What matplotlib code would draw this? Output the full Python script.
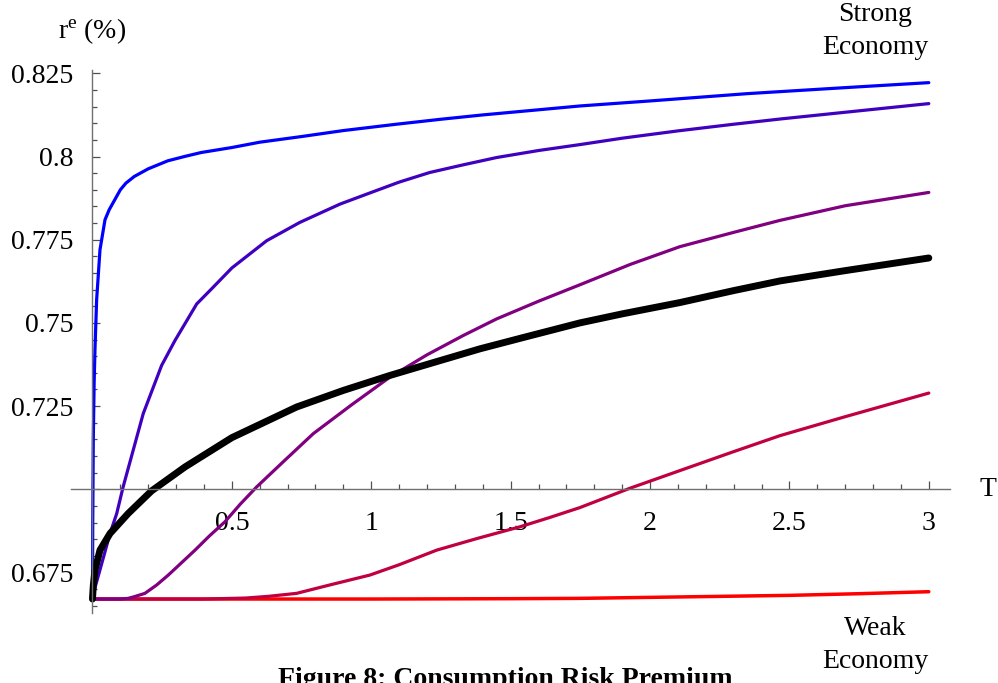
import numpy as np
import matplotlib.pyplot as plt
from matplotlib.ticker import MultipleLocator, FixedLocator, FixedFormatter

plt.rcParams['font.family'] = ['Liberation Serif', 'DejaVu Serif']
plt.rcParams['mathtext.fontset'] = 'custom'
plt.rcParams['mathtext.rm'] = 'Liberation Serif'
plt.rcParams['mathtext.it'] = 'Liberation Serif:italic'

# curves (T, r^e)
t_blue = [0, 0.001, 0.003, 0.006, 0.009, 0.015, 0.027, 0.045, 0.06, 0.08, 0.1, 0.12,
          0.15, 0.2, 0.27, 0.33, 0.39, 0.5, 0.6, 0.75, 0.9, 1.09, 1.25, 1.4, 1.75,
          2.0, 2.35, 2.7, 3.0]
r_blue = [0.667, 0.69, 0.715, 0.732, 0.742, 0.757, 0.772, 0.781, 0.784, 0.787, 0.790, 0.792,
          0.794, 0.7963, 0.7987, 0.8, 0.8012, 0.8027, 0.8043, 0.806, 0.8078, 0.8097, 0.8112, 0.8125, 0.8152,
          0.8167, 0.8189, 0.8207, 0.8222]

t_indigo = [0, 0.01, 0.04, 0.063, 0.087, 0.11, 0.146, 0.182, 0.248, 0.296, 0.374,
            0.427, 0.5, 0.625, 0.744, 0.888, 1.0, 1.1, 1.21, 1.33, 1.45, 1.6, 1.75,
            1.9, 2.1, 2.3, 2.47, 2.7, 3.0]
r_indigo = [0.667, 0.6707, 0.6797, 0.6867, 0.6927, 0.7007, 0.7117, 0.7227, 0.7372, 0.7447, 0.7557,
            0.7602, 0.7665, 0.7747, 0.7802, 0.7857, 0.7892, 0.7923, 0.7952, 0.7975, 0.7997, 0.8018, 0.8036,
            0.8055, 0.8077, 0.8097, 0.8113, 0.8133, 0.8159]

t_purple = [0, 0.1, 0.128, 0.15, 0.188, 0.23, 0.272, 0.368, 0.42, 0.475, 0.53, 0.589,
            0.69, 0.792, 0.93, 1.067, 1.2, 1.33, 1.45, 1.6, 1.75, 1.93, 2.107, 2.3,
            2.466, 2.7, 3.0]
r_purple = [0.667, 0.667, 0.6672, 0.6677, 0.6687, 0.6712, 0.6742, 0.6817, 0.686, 0.6902, 0.6955, 0.7007,
            0.7087, 0.7167, 0.7254, 0.7337, 0.7404, 0.7462, 0.7512, 0.7565, 0.7615, 0.7676, 0.7729, 0.7772,
            0.7808, 0.7852, 0.7892]

t_crimson = [0, 0.4, 0.55, 0.63, 0.732, 0.85, 0.995, 1.1, 1.235, 1.38, 1.533, 1.64,
             1.749, 1.928, 2.107, 2.3, 2.466, 2.7, 3.0]
r_crimson = [0.667, 0.667, 0.6673, 0.6678, 0.6687, 0.6712, 0.6742, 0.6773, 0.6817, 0.6852, 0.6887, 0.6915,
             0.6945, 0.7003, 0.7056, 0.7113, 0.7161, 0.7218, 0.7289]

t_red = [0, 1.0, 1.5, 1.75, 2.0, 2.25, 2.5, 2.75, 3.0]
r_red = [0.667, 0.667, 0.6671, 0.6672, 0.6675, 0.6678, 0.6681, 0.6686, 0.6692]

t_black = [0, 0.003, 0.009, 0.027, 0.063, 0.128, 0.212, 0.332, 0.5, 0.732, 0.9,
           1.067, 1.2, 1.39, 1.55, 1.749, 1.9, 2.107, 2.3, 2.466, 2.7, 3.0]
r_black = [0.667, 0.671, 0.6757, 0.6817, 0.6867, 0.6927, 0.6995, 0.7067, 0.7155, 0.7247, 0.7297,
           0.7342, 0.7375, 0.7422, 0.7457, 0.75, 0.7527, 0.7561, 0.7597, 0.7626, 0.7657, 0.7695]

xticks = [0.5, 1, 1.5, 2, 2.5, 3]
xlabels = ['0.5', '1', '1.5', '2', '2.5', '3']
yticks = [0.675, 0.7, 0.725, 0.75, 0.775, 0.8, 0.825]
ylabels = ['0.675', '', '0.725', '0.75', '0.775', '0.8', '0.825']

fig = plt.figure(figsize=(9.98, 6.83), dpi=100)
ax = fig.add_axes([71/998, 70/683, 879/998, 543/683])
ax.set_xlim(-0.077, 3.076)
ax.set_ylim(0.6628, 0.826)

lw = 2.3
ax.plot(t_red, r_red, color='#ff0000', lw=2.5, solid_capstyle='round')
ax.plot(t_crimson, r_crimson, color='#c00040', lw=lw, solid_capstyle='round')
ax.plot(t_purple, r_purple, color='#800080', lw=lw, solid_capstyle='round')
ax.plot(t_indigo, r_indigo, color='#4000c0', lw=lw, solid_capstyle='round')
ax.plot(t_blue, r_blue, color='#0000ff', lw=lw, solid_capstyle='round')
ax.plot(t_black, r_black, color='black', lw=5, solid_capstyle='round')

for s in ['top', 'right']:
    ax.spines[s].set_visible(False)
ax.spines['left'].set_position(('data', 0))
ax.spines['bottom'].set_position(('data', 0.7))
for s in ['left', 'bottom']:
    ax.spines[s].set_color('#707070')
    ax.spines[s].set_linewidth(1.0)

ax.xaxis.set_major_locator(FixedLocator(xticks))
ax.xaxis.set_major_formatter(FixedFormatter(xlabels))
ax.xaxis.set_minor_locator(MultipleLocator(0.1))
ax.yaxis.set_major_locator(FixedLocator(yticks))
ax.yaxis.set_major_formatter(FixedFormatter(ylabels))
ax.yaxis.set_minor_locator(MultipleLocator(0.005))

ax.tick_params(which='both', direction='in', color='#505050', width=0.9, labelsize=20)
ax.tick_params(which='major', length=6)
ax.tick_params(which='minor', length=3.5)
ax.tick_params(axis='x', pad=16)
ax.tick_params(axis='y', pad=14)

fig.text(58/998, 1 - 38/683, r'$\mathrm{r}^{\mathrm{e}}$ (%)', fontsize=20, ha='left', va='baseline')
fig.text(979/998, 1 - 489/683, 'T', fontsize=20, ha='left', va='center')
fig.text(875/998, 1 - 31/683, 'Strong\nEconomy', fontsize=20, ha='center', va='center',
         linespacing=1.45)
fig.text(875/998, 1 - 645/683, 'Weak\nEconomy', fontsize=20, ha='center', va='center',
         linespacing=1.45)
fig.text(505/998, 1 - 686/683, 'Figure 8: Consumption Risk Premium', fontsize=20,
         fontweight='bold', ha='center', va='baseline')

fig.savefig('out.png', dpi=100)
